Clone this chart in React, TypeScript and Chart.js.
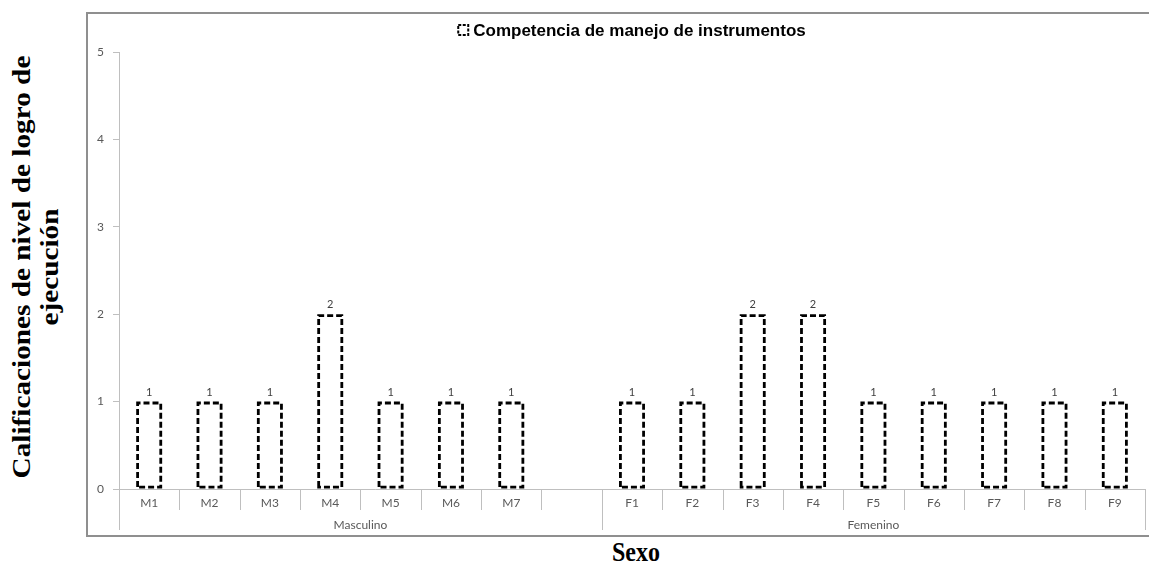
import React, { useEffect, useRef } from "react";
import { Chart, registerables } from "chart.js";

Chart.register(...registerables);

const seriesName = "Competencia de manejo de instrumentos";
const masculinoLabels = ["M1", "M2", "M3", "M4", "M5", "M6", "M7", ""];
const masculinoValues: (number | null)[] = [1, 1, 1, 2, 1, 1, 1, null];
const femeninoLabels = ["F1", "F2", "F3", "F4", "F5", "F6", "F7", "F8", "F9"];
const femeninoValues: (number | null)[] = [1, 1, 2, 2, 1, 1, 1, 1, 1];
const groupNames = ["Masculino", "Femenino"];
const yTicks = [0, 1, 2, 3, 4, 5];
const yTitleLines = ["Calificaciones de nivel de logro de", "ejecución"];
const xTitle = "Sexo";

const categoryLabels = [...masculinoLabels, ...femeninoLabels];
const allValues = [...masculinoValues, ...femeninoValues];
const groupSpans = [
  { name: groupNames[0], start: 0, count: masculinoLabels.length },
  { name: groupNames[1], start: masculinoLabels.length, count: femeninoLabels.length },
];

const AXIS_GRAY = "#bfbfbf";
const TEXT_GRAY = "#595959";
const LABEL_FONT = "Lato, 'Liberation Sans', sans-serif";
const BAR_DASH = [6, 3];
const BAR_LINE = 2.8;

const customPlugin = {
  id: "customDecor",
  afterDatasetsDraw(chart: any) {
    const { ctx } = chart;
    const meta = chart.getDatasetMeta(0);
    ctx.save();
    ctx.strokeStyle = "#000";
    ctx.lineWidth = BAR_LINE;
    ctx.setLineDash(BAR_DASH);
    meta.data.forEach((bar: any, i: number) => {
      if (allValues[i] == null) return;
      const { x, y, base, width } = bar.getProps(["x", "y", "base", "width"], true);
      const inset = BAR_LINE / 2;
      const l = x - width / 2 + inset;
      const r = x + width / 2 - inset;
      const t = y + inset;
      const b = base - inset;
      ctx.beginPath();
      ctx.moveTo(l, b);
      ctx.lineTo(l, t);
      ctx.lineTo(r, t);
      ctx.lineTo(r, b);
      ctx.closePath();
      ctx.stroke();
    });
    ctx.restore();
  },
  afterDraw(chart: any) {
    const { ctx, chartArea } = chart;
    const x = chart.scales.x;
    const n = categoryLabels.length;
    const half = (x.getPixelForValue(1) - x.getPixelForValue(0)) / 2;
    const bottom = chartArea.bottom;
    const groupBounds = new Set<number>();
    groupSpans.forEach((g) => {
      groupBounds.add(g.start);
      groupBounds.add(g.start + g.count);
    });
    ctx.save();
    ctx.strokeStyle = AXIS_GRAY;
    ctx.lineWidth = 1;
    for (let i = 0; i <= n; i++) {
      const px = Math.round(x.getPixelForValue(Math.min(i, n - 1)) + (i === n ? half : -half)) + 0.5;
      const len = groupBounds.has(i) ? 41 : 21;
      ctx.beginPath();
      ctx.moveTo(px, bottom);
      ctx.lineTo(px, bottom + len);
      ctx.stroke();
    }
    // group labels
    ctx.fillStyle = TEXT_GRAY;
    ctx.font = `12px ${LABEL_FONT}`;
    ctx.textAlign = "center";
    ctx.textBaseline = "middle";
    groupSpans.forEach((g) => {
      const l = x.getPixelForValue(g.start) - half;
      const r = x.getPixelForValue(g.start + g.count - 1) + half;
      ctx.fillText(g.name, (l + r) / 2, bottom + 36);
    });
    // data labels
    const meta = chart.getDatasetMeta(0);
    ctx.fillStyle = "#404040";
    ctx.font = `11px ${LABEL_FONT}`;
    ctx.textBaseline = "bottom";
    meta.data.forEach((bar: any, i: number) => {
      const v = allValues[i];
      if (v == null) return;
      ctx.fillText(String(v), bar.x, bar.y - 4);
    });
    // legend (series name as header)
    ctx.font = `bold 17px 'Liberation Sans', Arial, sans-serif`;
    const tw = ctx.measureText(seriesName).width;
    const box = 10;
    const gap = 5;
    const total = box + gap + tw;
    const cx = (chartArea.left + chartArea.right) / 2;
    const startX = cx - total / 2;
    const cy = 16;
    ctx.setLineDash([3, 1.5]);
    ctx.lineWidth = 2;
    ctx.strokeStyle = "#000";
    ctx.strokeRect(startX, cy - box / 2, box, box);
    ctx.setLineDash([]);
    ctx.fillStyle = "#000";
    ctx.textAlign = "left";
    ctx.textBaseline = "middle";
    ctx.fillText(seriesName, startX + box + gap, cy + 1);
    ctx.restore();
  },
};

export default function App() {
  const canvasRef = useRef<HTMLCanvasElement | null>(null);

  useEffect(() => {
    if (!canvasRef.current) return;
    const chart = new Chart(canvasRef.current, {
      type: "bar",
      data: {
        labels: categoryLabels,
        datasets: [
          {
            label: seriesName,
            data: allValues,
            backgroundColor: "rgba(255,255,255,0)",
            borderColor: "rgba(0,0,0,0)",
            borderWidth: 0,
            barPercentage: 0.43,
            categoryPercentage: 1,
          } as any,
        ],
      },
      options: {
        responsive: false,
        animation: false,
        devicePixelRatio: 1,
        layout: { padding: { top: 38, right: 4, bottom: 0, left: 0 } },
        plugins: {
          legend: { display: false },
          tooltip: { enabled: false },
          title: { display: false },
        },
        scales: {
          x: {
            type: "category",
            offset: true,
            grid: { display: false, drawTicks: false },
            border: { display: true, color: AXIS_GRAY, width: 1 },
            ticks: {
              color: TEXT_GRAY,
              font: { size: 12, family: LABEL_FONT },
              padding: 7,
              maxRotation: 0,
              autoSkip: false,
            },
            afterFit: (s: any) => {
              s.height = 46;
            },
          },
          y: {
            min: yTicks[0],
            max: yTicks[yTicks.length - 1],
            afterBuildTicks: (s: any) => {
              s.ticks = yTicks.map((v) => ({ value: v }));
            },
            grid: {
              drawOnChartArea: false,
              drawTicks: true,
              tickLength: 6,
              color: AXIS_GRAY,
            },
            border: { display: true, color: AXIS_GRAY, width: 1 },
            ticks: {
              color: TEXT_GRAY,
              font: { size: 12, family: LABEL_FONT },
              padding: 9,
            },
            afterFit: (s: any) => {
              s.width = 31;
            },
          },
        },
      },
      plugins: [customPlugin],
    });
    return () => chart.destroy();
  }, []);

  return (
    <div
      style={{
        position: "fixed",
        left: 0,
        top: 0,
        width: 1149,
        height: 563,
        overflow: "hidden",
        background: "#fff",
      }}
    >
      <div
        style={{
          position: "absolute",
          left: 86,
          top: 12,
          width: 1100,
          height: 525,
          boxSizing: "border-box",
          border: "2px solid #8f8f8f",
        }}
      />
      <canvas
        ref={canvasRef}
        width={1061}
        height={521}
        style={{ position: "absolute", left: 88, top: 14, width: 1061, height: 521 }}
      />
      <div
        style={{
          position: "absolute",
          left: 36,
          top: 267,
          width: 0,
          height: 0,
        }}
      >
        <div
          style={{
            position: "absolute",
            left: 0,
            top: 0,
            transform: "translate(-50%, -50%) scale(1, 1.17) rotate(-90deg)",
            whiteSpace: "nowrap",
            textAlign: "center",
            fontFamily: "'Liberation Serif', 'Times New Roman', serif",
            fontWeight: "bold",
            fontSize: 25,
            lineHeight: "28px",
            color: "#000",
          }}
        >
          {yTitleLines.map((l, i) => (
            <div key={i}>{l}</div>
          ))}
        </div>
      </div>
      <div
        style={{
          position: "absolute",
          left: 636,
          top: 552,
          width: 0,
          height: 0,
        }}
      >
        <div
          style={{
            position: "absolute",
            left: 0,
            top: 0,
            transform: "translate(-50%, -50%) scale(1, 1.1)",
            whiteSpace: "nowrap",
            fontFamily: "'Liberation Serif', 'Times New Roman', serif",
            fontWeight: "bold",
            fontSize: 24,
            lineHeight: "28px",
            color: "#000",
          }}
        >
          {xTitle}
        </div>
      </div>
    </div>
  );
}
